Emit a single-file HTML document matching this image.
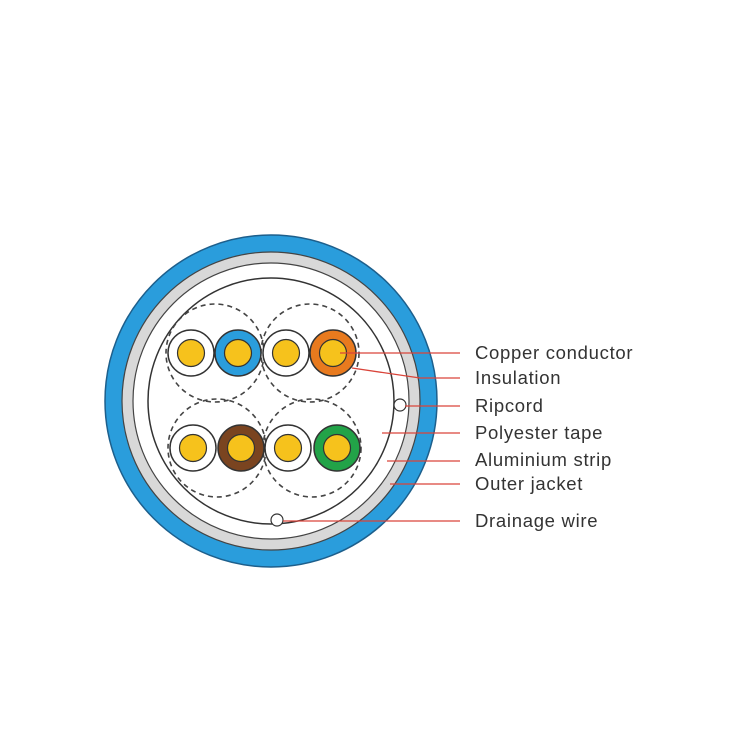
<!DOCTYPE html>
<html><head><meta charset="utf-8"><style>body{margin:0;background:#fff}svg{display:block}</style></head><body>
<svg width="730" height="730" viewBox="0 0 730 730" xmlns="http://www.w3.org/2000/svg">
<circle cx="271" cy="401" r="166" fill="#2a9ddc" stroke="#1d5f8c" stroke-width="1.5"/>
<circle cx="271" cy="401" r="149" fill="#d8d8d8" stroke="#444" stroke-width="1.2"/>
<circle cx="271" cy="401" r="138" fill="#fff" stroke="#444" stroke-width="1.2"/>
<circle cx="271" cy="401" r="123" fill="#fff" stroke="#333" stroke-width="1.5"/>
<g fill="none" stroke="#444" stroke-width="1.6" stroke-dasharray="5,4">
<circle cx="215" cy="353" r="49"/><circle cx="310" cy="353" r="49"/>
<circle cx="217" cy="448" r="49"/><circle cx="312" cy="448" r="49"/>
</g>
<g stroke="#333" stroke-width="1.5">
<circle cx="191" cy="353" r="23" fill="#fff"/><circle cx="238" cy="353" r="23" fill="#2a9ddc"/>
<circle cx="286" cy="353" r="23" fill="#fff"/><circle cx="333" cy="353" r="23" fill="#e87a1e"/>
<circle cx="193" cy="448" r="23" fill="#fff"/><circle cx="241" cy="448" r="23" fill="#7a4420"/>
<circle cx="288" cy="448" r="23" fill="#fff"/><circle cx="337" cy="448" r="23" fill="#22a348"/>
</g>
<g fill="#f6c21c" stroke="#333" stroke-width="1.2">
<circle cx="191" cy="353" r="13.5"/><circle cx="238" cy="353" r="13.5"/>
<circle cx="286" cy="353" r="13.5"/><circle cx="333" cy="353" r="13.5"/>
<circle cx="193" cy="448" r="13.5"/><circle cx="241" cy="448" r="13.5"/>
<circle cx="288" cy="448" r="13.5"/><circle cx="337" cy="448" r="13.5"/>
</g>
<circle cx="400" cy="405" r="6" fill="#fff" stroke="#333" stroke-width="1.2"/>
<circle cx="277" cy="520" r="6" fill="#fff" stroke="#333" stroke-width="1.2"/>
<g stroke="#d9443a" stroke-width="1.3" fill="none">
<line x1="340" y1="353" x2="460" y2="353"/>
<polyline points="352,368 420,378 460,378"/>
<line x1="405" y1="406" x2="460" y2="406"/>
<line x1="382" y1="433" x2="460" y2="433"/>
<line x1="387" y1="461" x2="460" y2="461"/>
<line x1="390" y1="484" x2="460" y2="484"/>
<line x1="283" y1="521" x2="460" y2="521"/>
</g>
<g font-family="Liberation Sans, sans-serif" font-size="18.5" letter-spacing="0.7" fill="#333">
<text x="475" y="359">Copper conductor</text>
<text x="475" y="384">Insulation</text>
<text x="475" y="412">Ripcord</text>
<text x="475" y="439">Polyester tape</text>
<text x="475" y="466">Aluminium strip</text>
<text x="475" y="490">Outer jacket</text>
<text x="475" y="527">Drainage wire</text>
</g>
</svg>
</body></html>
